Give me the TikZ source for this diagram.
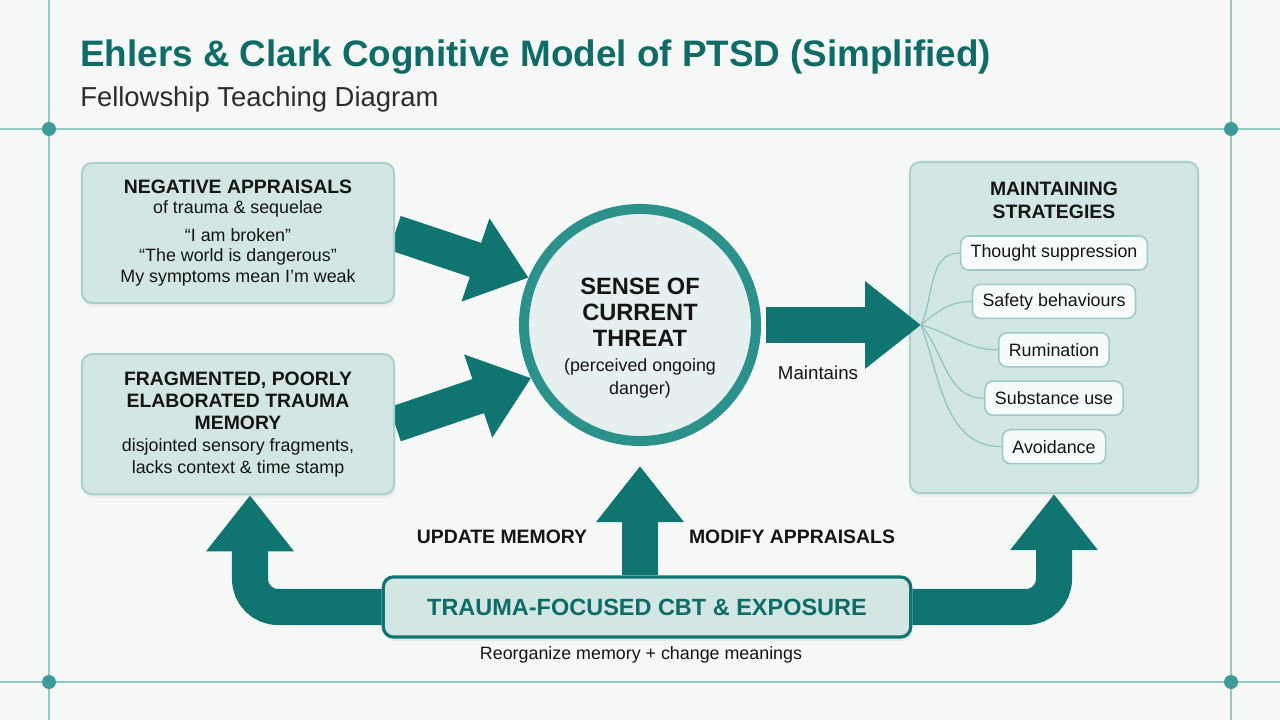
\documentclass[tikz,border=0pt]{standalone}
\usepackage{fontspec}
\setmainfont{Liberation Sans}
\usepackage{tikz}
\usepackage{xcolor}
\usetikzlibrary{arrows.meta, positioning, calc, shadows}

\definecolor{bgcol}{HTML}{F6F8F8}
\definecolor{gridline}{HTML}{93C9C5}
\definecolor{griddot}{HTML}{3E9C98}
\definecolor{titleteal}{HTML}{0E6B66}
\definecolor{arrowteal}{HTML}{107571}
\definecolor{panelfill}{HTML}{D2E7E4}
\definecolor{panelline}{HTML}{A9D1CC}
\definecolor{hubfill}{HTML}{E6F0F0}
\definecolor{ringteal}{HTML}{2C918B}
\definecolor{pillfill}{HTML}{F8FBFB}
\definecolor{pillline}{HTML}{9DCBC6}
\definecolor{fancol}{HTML}{8EC3BE}
\definecolor{inkblack}{HTML}{151515}

\pgfdeclarelayer{canvas}
\pgfdeclarelayer{links}
\pgfsetlayers{canvas,links,main}

\newcommand\headfont{\fontsize{13.8}{15.6}\selectfont\bfseries}
\newcommand\bodyfont{\fontsize{12.7}{15.6}\selectfont}

\tikzstyle{bigarrow} = [line width=0.9cm, draw=arrowteal, -{Triangle[length=1.4cm, width=2.1cm]}]

\begin{document}
\begin{tikzpicture}[x=0.025cm, y=-0.025cm]
\tikzstyle{panel} = [rectangle, rounded corners=0.25cm, draw=panelline, line width=0.05cm, fill=panelfill, align=center, text=inkblack, font=\bodyfont, drop shadow={shadow xshift=0.04cm, shadow yshift=-0.1cm, opacity=0.08}]
\tikzstyle{hub} = [circle, minimum size=5.8cm, draw=ringteal, line width=0.25cm, fill=hubfill, drop shadow={shadow xshift=0.04cm, shadow yshift=-0.12cm, opacity=0.1}]
\tikzstyle{pill} = [rectangle, rounded corners=0.2cm, draw=pillline, line width=0.04cm, fill=pillfill, minimum height=0.85cm, inner xsep=0.25cm, text=inkblack, font=\bodyfont]
\tikzstyle{therapy} = [rectangle, rounded corners=0.25cm, draw=arrowteal, line width=0.08cm, fill=panelfill, text=titleteal, font=\fontsize{16.7}{19}\selectfont\bfseries, drop shadow={shadow xshift=0.04cm, shadow yshift=-0.1cm, opacity=0.1}]
\tikzstyle{fanline} = [draw=fancol, line width=0.03cm]

\useasboundingbox (0,0) rectangle (1280,720);

% page and guide lines
\begin{pgfonlayer}{canvas}
\fill[bgcol] (0,0) rectangle (1280,720);
\draw[gridline, line width=0.035cm] (0,129) -- (1280,129);
\draw[gridline, line width=0.035cm] (0,682) -- (1280,682);
\draw[gridline, line width=0.035cm] (49,0) -- (49,720);
\draw[gridline, line width=0.035cm] (1231,0) -- (1231,720);
\foreach \gx in {49,1231}
  \foreach \gy in {129,682}
    \fill[griddot] (\gx,\gy) circle (7);
\end{pgfonlayer}

% heading
\node (title) [anchor=base west, inner sep=0, text=titleteal, font=\fontsize{26.2}{30}\selectfont\bfseries] at (80,67) {Ehlers \& Clark Cognitive Model of PTSD (Simplified)};
\node (subtitle) [anchor=base west, inner sep=0, text=inkblack!90, font=\fontsize{19.5}{22}\selectfont] at (80,107) {Fellowship Teaching Diagram};

% boxes
\node (neg) [panel, minimum width=7.8cm, minimum height=3.5cm, font=\fontsize{12.7}{14.6}\selectfont] at (238,233) {{\headfont NEGATIVE APPRAISALS}\\ of trauma \& sequelae\\[5pt] “I am broken”\\ “The world is dangerous”\\ My symptoms mean I'm weak};
\node (frag) [panel, minimum width=7.8cm, minimum height=3.5cm, below of=neg, node distance=4.78cm] {{\headfont FRAGMENTED, POORLY}\\ {\headfont ELABORATED TRAUMA}\\ {\headfont MEMORY}\\ disjointed sensory fragments,\\ lacks context \& time stamp};
\node (thr) [hub] at (640,325) {};
\node (thrtext) [align=center, text=inkblack, font=\fontsize{16.8}{18.5}\selectfont\bfseries] at (640,338) {SENSE OF\\ CURRENT\\ THREAT\\[-1pt] {\normalfont\bodyfont (perceived ongoing}\\[-2pt] {\normalfont\bodyfont danger)}};
\node (maint) [panel, minimum width=7.2cm, minimum height=8.28cm] at (1054,327.5) {};
\node (mainthead) [align=center, text=inkblack, font=\fontsize{13.8}{16.4}\selectfont\bfseries] at (1054,200) {MAINTAINING\\ STRATEGIES};
\node (thought) [pill] at (1054,253) {Thought suppression};
\node (safety) [pill, below of=thought, node distance=1.21cm] {Safety behaviours};
\node (rumination) [pill, below of=safety, node distance=1.21cm] {Rumination};
\node (substance) [pill, below of=rumination, node distance=1.21cm] {Substance use};
\node (avoidance) [pill, below of=substance, node distance=1.21cm] {Avoidance};
\node (cbt) [therapy, minimum width=13.18cm, minimum height=1.5cm] at (647,607) {TRAUMA-FOCUSED CBT \& EXPOSURE};
\node (cbtnote) [text=inkblack, font=\bodyfont] at (641,655) {Reorganize memory + change meanings};
\coordinate (fan) at (921,325);

% arrows into the threat circle and back to the boxes
\begin{pgfonlayer}{links}
\draw[bigarrow] (neg.east) -- (thr.157);
\draw[bigarrow] (frag.east) -- (thr.206);
\draw[bigarrow, shorten >=0.5cm] (thr.south |- cbt.north) -- (thr.south);
\draw[bigarrow, rounded corners=0.7cm] (cbt.west) -| ($(frag.south)+(12,0)$);
\draw[bigarrow, rounded corners=0.7cm] (cbt.east) -| (maint.south);
\end{pgfonlayer}
\draw[bigarrow, shorten <=0.12cm] (thr.east) -- (fan);

\foreach \pname/\ang in {thought/65, safety/40, rumination/-15, substance/-50, avoidance/-70}
  \draw[fanline] (fan) to[out=\ang, in=180] (\pname.west);

\node (updlabel) [text=inkblack, font=\headfont] at (502,537) {UPDATE MEMORY};
\node (modlabel) [text=inkblack, font=\headfont] at (792,537) {MODIFY APPRAISALS};
\node (keeplabel) [text=inkblack, font=\fontsize{13.3}{15}\selectfont] at (818,373) {Maintains};

\end{tikzpicture}
\end{document}
